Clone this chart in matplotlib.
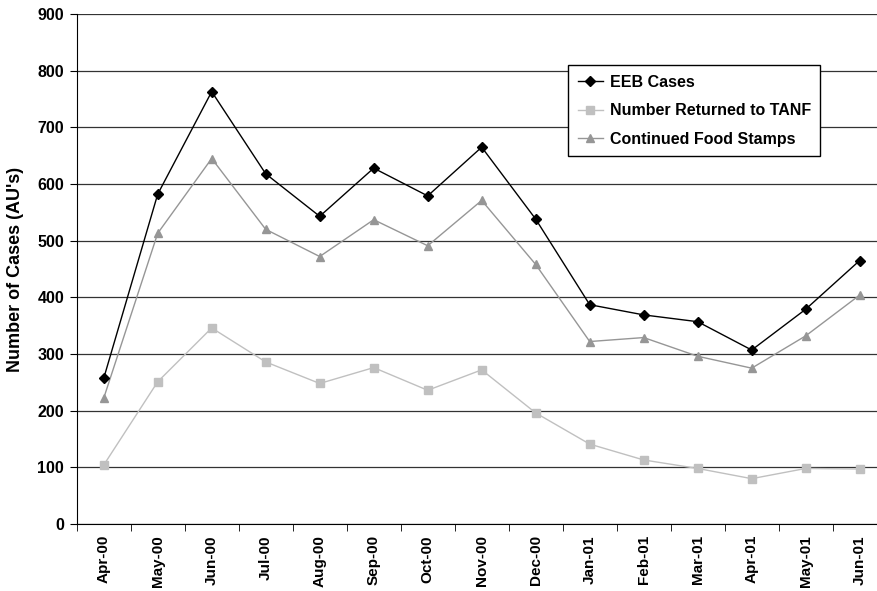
import matplotlib.pyplot as plt
from matplotlib.ticker import FixedLocator

plt.rcParams['font.family'] = ['Liberation Sans', 'DejaVu Sans']

# category labels (one per month)
months = ['Apr-00', 'May-00', 'Jun-00', 'Jul-00', 'Aug-00', 'Sep-00', 'Oct-00',
          'Nov-00', 'Dec-00', 'Jan-01', 'Feb-01', 'Mar-01', 'Apr-01', 'May-01', 'Jun-01']

# series values
eeb_cases = [257, 582, 763, 618, 543, 628, 579, 665, 538, 387, 369, 357, 307, 379, 465]
returned_tanf = [104, 251, 346, 286, 248, 276, 236, 272, 196, 141, 113, 98, 80, 98, 97]
food_stamps = [222, 513, 645, 520, 472, 537, 491, 571, 458, 322, 329, 296, 275, 332, 404]

fig = plt.figure(figsize=(8.77, 5.91), dpi=100)
# axes run slightly past the right edge of the picture, as in the original
ax = fig.add_axes([76.7 / 877, 67 / 591, 810 / 877, 510 / 591])

x = list(range(len(months)))
ax.plot(x, eeb_cases, color='black', lw=1.0, marker='D', ms=5,
        label='EEB Cases', zorder=4)
ax.plot(x, returned_tanf, color='#c0c0c0', lw=1.0, marker='s', ms=6,
        label='Number Returned to TANF', zorder=3)
ax.plot(x, food_stamps, color='#969696', lw=1.0, marker='^', ms=6,
        label='Continued Food Stamps', zorder=3)

ax.set_xlim(-0.5, len(months) - 0.5)
ax.set_ylim(0, 900)
ax.set_yticks(range(0, 901, 100))
ax.yaxis.grid(True, color='#333333', lw=0.9)
ax.set_axisbelow(True)

ax.set_xticks(x)
ax.set_xticklabels(months, rotation=90, fontsize=11, fontweight='bold')
ax.tick_params(axis='x', which='major', length=0, pad=8)
ax.xaxis.set_minor_locator(FixedLocator([i + 0.5 for i in range(-1, len(months))]))
ax.tick_params(axis='x', which='minor', length=5, direction='out', color='black')
ax.tick_params(axis='y', length=5, direction='out', labelsize=11.5, pad=4)
for lab in ax.get_yticklabels():
    lab.set_fontweight('bold')

ax.set_ylabel("Number of Cases (AU's)", fontsize=13, fontweight='bold', labelpad=10)

for side in ['top', 'right']:
    ax.spines[side].set_visible(False)
ax.spines['left'].set_color('black')
ax.spines['bottom'].set_color('black')

leg = ax.legend(loc='upper left', bbox_to_anchor=(568 / 877, 1 - 65 / 591),
                bbox_transform=fig.transFigure, fancybox=False, framealpha=1,
                edgecolor='black', prop={'weight': 'bold', 'size': 11.5},
                handlelength=1.6, borderpad=0.6, labelspacing=0.85,
                handletextpad=0.4, borderaxespad=0)
leg.get_frame().set_linewidth(1.0)

fig.savefig('out.png', dpi=100)
